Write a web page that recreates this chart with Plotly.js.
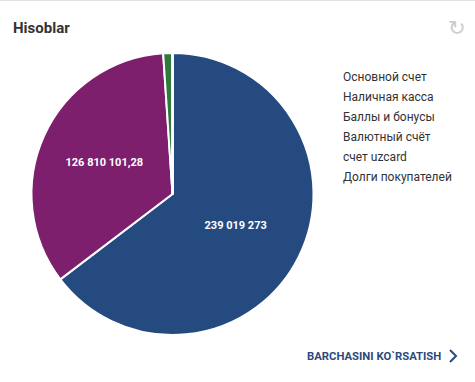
<!DOCTYPE html>
<html><head><meta charset="utf-8">
<script src="https://cdn.plot.ly/plotly-3.0.1.min.js"></script>
<style>html,body{margin:0;padding:0;background:#fff;}#chart{width:475px;height:382px;}</style>
</head><body><div id="chart"></div>
<script>
const labels = ["Основной счет", "Наличная касса", "Баллы и бонусы", "Валютный счёт", "счет uzcard", "Долги покупателей"];
const values = [239019273, 126810101.28, 3900000, 0, 0, 0];
const colors = ["#254a80", "#7e1f6e", "#2e7a3a", "#c8a23c", "#3a8fc4", "#c0392b"];
const titleText = "Hisoblar";
const linkText = "BARCHASINI KO`RSATISH";

function fmt(v){
  const neg = v < 0; v = Math.abs(v);
  let intPart = Math.floor(v);
  let frac = Math.round((v - intPart) * 100);
  let s = String(intPart).replace(/\B(?=(\d{3})+(?!\d))/g, " ");
  if (frac > 0) s += "," + String(frac).padStart(2, "0");
  return (neg ? "-" : "") + s;
}
const total = values.reduce((a,b)=>a+b,0);
const texts = values.map(v => (v/total > 0.05 ? fmt(v) : ""));

const W = 475, H = 382;
const px = x => x / W, py = y => 1 - y / H;

const annotations = [
  {text: "<b>" + titleText + "</b>", x: px(11), y: py(28), xref: "paper", yref: "paper", xanchor: "left", yanchor: "middle", showarrow: false, font: {family: "Roboto, sans-serif", size: 15, color: "#333"}},
  {text: "↻", x: px(457), y: py(28), xref: "paper", yref: "paper", xanchor: "center", yanchor: "middle", showarrow: false, font: {family: "DejaVu Sans", size: 21, color: "#cccccc"}},
  {text: "<b>" + linkText + "</b>", x: px(305), y: py(356), xref: "paper", yref: "paper", xanchor: "left", yanchor: "middle", showarrow: false, font: {family: "Roboto, sans-serif", size: 11.3, color: "#2c4a7c"}}
];
labels.forEach((l, i) => {
  annotations.push({text: l, x: px(341), y: py(77 + 20 * i), xref: "paper", yref: "paper", xanchor: "left", yanchor: "middle", showarrow: false, font: {family: "Roboto, sans-serif", size: 12, color: "#333"}});
});

const shapes = [
  {type: "line", xref: "paper", yref: "paper", x0: 0, x1: 1, y0: py(0.5), y1: py(0.5), line: {color: "#e3e3e3", width: 1}},
  {type: "path", xref: "paper", yref: "paper", path: "M " + px(450) + "," + py(350) + " L " + px(456) + "," + py(356) + " L " + px(450) + "," + py(362), line: {color: "#2c4a7c", width: 2}}
];

const trace = {
  type: "pie",
  labels: labels,
  values: values,
  text: texts,
  textinfo: "text",
  hoverinfo: "label+value",
  sort: false,
  direction: "clockwise",
  rotation: 0,
  insidetextorientation: "horizontal",
  textposition: "inside",
  marker: {colors: colors, line: {color: "#ffffff", width: 2}},
  insidetextfont: {family: "Roboto, sans-serif", size: 11, color: "#ffffff", weight: "bold"},
  domain: {x: [px(172.5 - 141), px(172.5 + 141)], y: [py(335), py(53)]},
  showlegend: false
};

Plotly.newPlot("chart", [trace], {
  width: W, height: H,
  margin: {l: 0, r: 0, t: 0, b: 0},
  paper_bgcolor: "#fff",
  showlegend: false,
  annotations: annotations,
  shapes: shapes
}, {displayModeBar: false, staticPlot: true});
</script></body></html>
